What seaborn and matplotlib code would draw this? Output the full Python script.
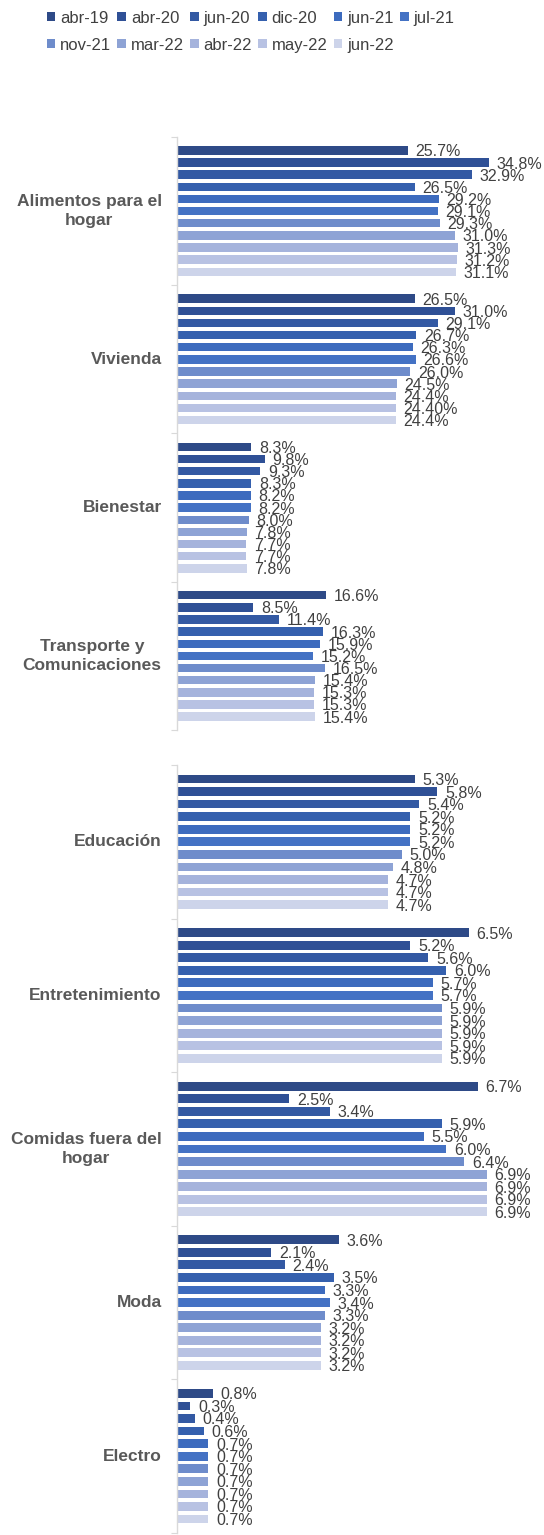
import matplotlib
matplotlib.use("Agg")
import matplotlib.pyplot as plt
import seaborn as sns
import pandas as pd
from matplotlib.patches import Patch

periods = ["abr-19", "abr-20", "jun-20", "dic-20", "jun-21", "jul-21",
           "nov-21", "mar-22", "abr-22", "may-22", "jun-22"]
colors = ["#2E4A87", "#2F5096", "#3359A3", "#3560AE", "#3D6BBE", "#4472C4",
          "#6E8CCB", "#8EA3D5", "#A5B3DC", "#B8C2E3", "#CDD4EA"]

top_categories = ["Alimentos para el\nhogar", "Vivienda", "Bienestar",
                  "Transporte y\nComunicaciones"]
alimentos = [25.7, 34.8, 32.9, 26.5, 29.2, 29.1, 29.3, 31.0, 31.3, 31.2, 31.1]
vivienda = [26.5, 31.0, 29.1, 26.7, 26.3, 26.6, 26.0, 24.5, 24.4, 24.4, 24.4]
bienestar = [8.3, 9.8, 9.3, 8.3, 8.2, 8.2, 8.0, 7.8, 7.7, 7.7, 7.8]
transporte = [16.6, 8.5, 11.4, 16.3, 15.9, 15.2, 16.5, 15.4, 15.3, 15.3, 15.4]

bottom_categories = ["Educación", "Entretenimiento",
                     "Comidas fuera del\nhogar", "Moda", "Electro"]
educacion = [5.3, 5.8, 5.4, 5.2, 5.2, 5.2, 5.0, 4.8, 4.7, 4.7, 4.7]
entretenimiento = [6.5, 5.2, 5.6, 6.0, 5.7, 5.7, 5.9, 5.9, 5.9, 5.9, 5.9]
comidas = [6.7, 2.5, 3.4, 5.9, 5.5, 6.0, 6.4, 6.9, 6.9, 6.9, 6.9]
moda = [3.6, 2.1, 2.4, 3.5, 3.3, 3.4, 3.3, 3.2, 3.2, 3.2, 3.2]
electro = [0.8, 0.3, 0.4, 0.6, 0.7, 0.7, 0.7, 0.7, 0.7, 0.7, 0.7]

# label shown differently in the source
label_overrides = {("Vivienda", "may-22"): "24.40%"}

sns.set_theme(style="white")
plt.rcParams["font.family"] = ["Liberation Sans", "DejaVu Sans"]

TXT = "#404040"
CAT = "#595959"
AX = "#D9D9D9"

fig = plt.figure(figsize=(5.44, 15.35), dpi=100)
L = 177 / 544
W = (540 - 177) / 544
ax1 = fig.add_axes([L, 1 - 730 / 1535, W, (730 - 137) / 1535])
ax2 = fig.add_axes([L, 1 - 1533 / 1535, W, (1533 - 765) / 1535])


def make_df(cats, series):
    rows = []
    for c, vals in zip(cats, series):
        for p, v in zip(periods, vals):
            rows.append({"cat": c, "period": p, "val": v})
    return pd.DataFrame(rows)


def draw(ax, cats, series, xmax):
    df = make_df(cats, series)
    sns.barplot(data=df, y="cat", x="val", hue="period", hue_order=periods,
                order=cats, palette=colors, orient="h", width=0.9, gap=0.3,
                ax=ax, legend=False, linewidth=0, saturation=1)
    for p, cont in zip(periods, ax.containers):
        labels = []
        for c, vals in zip(cats, series):
            v = vals[periods.index(p)]
            key = (c.replace("\n", " "), p)
            labels.append(label_overrides.get(key, f"{v:.1f}%"))
        texts = ax.bar_label(cont, labels=labels, padding=5.5, fontsize=11.5,
                             color=TXT)
        for t in texts:
            t.set_va("center_baseline")
    n = len(cats)
    ax.set_ylim(n - 0.5, -0.5)
    ax.set_xlim(0, xmax)
    ax.set_xlabel("")
    ax.set_ylabel("")
    ax.set_xticks([])
    ax.set_yticks(range(n))
    ax.set_yticklabels([])
    for i, c in enumerate(cats):
        ax.annotate(c, xy=(0, i), xycoords=("axes fraction", "data"),
                    xytext=(-11, 0), textcoords="offset points",
                    ha="right", va="center", multialignment="center",
                    fontsize=12.5, fontweight="bold", color=CAT,
                    linespacing=1.32, annotation_clip=False)
    ax.set_yticks([i - 0.5 for i in range(n + 1)], minor=True)
    ax.tick_params(axis="y", which="major", length=0)
    ax.tick_params(axis="y", which="minor", length=4, width=0.8,
                   color=AX, direction="out", left=True)
    for s in ["top", "right", "bottom"]:
        ax.spines[s].set_visible(False)
    ax.spines["left"].set_color(AX)
    ax.spines["left"].set_linewidth(1.0)


draw(ax1, top_categories, [alimentos, vivienda, bienestar, transporte],
     (540 - 177) / 8.97)
draw(ax2, bottom_categories,
     [educacion, entretenimiento, comidas, moda, electro],
     (540 - 177) / 44.9)

# legend: row-major order for 6 columns x 2 rows (matplotlib fills by column)
ncol = 6
row1 = list(range(0, ncol))
row2 = list(range(ncol, len(periods)))
order = []
for j in range(ncol):
    order.append(row1[j])
    if j < len(row2):
        order.append(row2[j])
handles = [Patch(facecolor=colors[i], edgecolor="none") for i in order]
labels = [periods[i] for i in order]
fig.legend(handles, labels, loc="upper left",
           bbox_to_anchor=(40 / 544, 1 - 4 / 1535),
           ncol=ncol, frameon=False, fontsize=12, labelcolor=TXT,
           handlelength=0.5, handleheight=0.5, handletextpad=0.3,
           columnspacing=0.38, labelspacing=0.72, borderaxespad=0)

fig.savefig("out.png", dpi=100)
